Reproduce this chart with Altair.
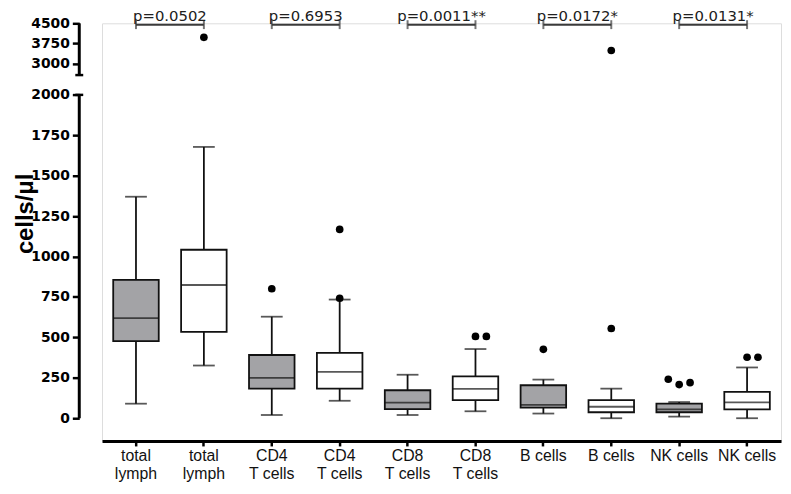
import json
import altair as alt
import pandas as pd

# ---------------- data ----------------
categories = ["c0", "c1", "c2", "c3", "c4", "c5", "c6", "c7", "c8", "c9"]
x_labels = [["total", "lymph"], ["total", "lymph"], ["CD4", "T cells"], ["CD4", "T cells"],
            ["CD8", "T cells"], ["CD8", "T cells"], ["B cells"], ["B cells"],
            ["NK cells"], ["NK cells"]]
groups = ["gray", "white"] * 5

whisker_lo = [90, 326, 20, 108, 20, 43, 29, 0, 10, 0]
q1 = [477, 534, 183, 183, 57, 112, 65, 37, 37, 55]
median = [619, 824, 249, 287, 96, 182, 82, 71, 55, 98]
q3 = [856, 1042, 391, 404, 173, 259, 204, 112, 90, 163]
whisker_hi = [1370, 1678, 628, 734, 269, 428, 239, 183, 100, 314]

outlier_cat = ["c1", "c2", "c3", "c3", "c5", "c5", "c6", "c7", "c7", "c8", "c8", "c8", "c9", "c9"]
outlier_val = [3980, 801, 1168, 742, 506, 506, 426, 555, 3490, 241, 208, 220, 377, 377]
outlier_slot = [0, 0, 0, 0, 0, 1, 0, 0, 0, -1, 0, 1, 0, 1]

bracket_left = ["c0", "c2", "c4", "c6", "c8"]
bracket_right = ["c1", "c3", "c5", "c7", "c9"]
p_text = ["p=0.0502", "p=0.6953", "p=0.0011**", "p=0.0172*", "p=0.0131*"]
bracket_level = [4450] * 5

axis_seg_lo = [0, 2575]
axis_seg_hi = [2000, 4500]
break_points = [2000, 2575]
y_ticks = [0, 250, 500, 750, 1000, 1250, 1500, 1750, 2000, 3000, 3750, 4500]

# ---------------- tables ----------------
boxes = pd.DataFrame({"cat": categories, "group": groups, "lo": whisker_lo, "q1": q1,
                      "med": median, "q3": q3, "hi": whisker_hi})
outliers = pd.DataFrame({"cat": outlier_cat, "val": outlier_val, "slot": outlier_slot})
brackets = pd.DataFrame({"a": bracket_left, "b": bracket_right, "txt": p_text, "lvl": bracket_level})
endpoints = pd.DataFrame({"cat": bracket_left + bracket_right, "lvl": bracket_level * 2})
axis_segs = pd.DataFrame({"lo": axis_seg_lo, "hi": axis_seg_hi})
breaks = pd.DataFrame({"v": break_points})

W, H = 686, 422
yscale = alt.Scale(domain=[0, 2000, 2575, 4500], range=[399, 72.3, 52.3, 0], zero=False, nice=False)
xscale = alt.Scale(type="band", domain=categories, paddingInner=0, paddingOuter=0)

label_expr = f"{json.dumps(x_labels)}[indexof({json.dumps(categories)}, datum.value)]"

x_axis = alt.Axis(title=None, labelExpr=label_expr, labelAngle=0, domainWidth=3, domainColor="black",
                  tickWidth=2.5, tickSize=5, tickColor="black", labelFont="Liberation Sans",
                  labelFontSize=16, labelColor="#111111", labelLineHeight=18, labelPadding=2,
                  labelBaseline="top")
y_axis = alt.Axis(title="cells/μl", values=y_ticks, format="d", offset=23, domain=False, grid=False,
                  tickSize=7, tickWidth=2.5, tickColor="black", labelFont="DejaVu Sans",
                  labelFontWeight="bold", labelFontSize=14, labelColor="black", labelPadding=3,
                  labelOverlap=False, labelFlush=False, titleFont="Liberation Sans",
                  titleFontWeight="bold", titleFontSize=24, titleAngle=270, titleAlign="center",
                  titleBaseline="middle", titleX=-54, titleY=192, titleColor="black")


def X(field="cat", band=0.5):
    return alt.X(f"{field}:N", scale=xscale, axis=x_axis, bandPosition=band)


def Y(field):
    return alt.Y(f"{field}:Q", scale=yscale, axis=y_axis)


whiskers = alt.Chart(boxes).mark_rule(color="#111111", strokeWidth=1.8).encode(
    x=X(), y=Y("lo"), y2="hi:Q")
caps_lo = alt.Chart(boxes).mark_tick(color="#111111", thickness=1.8, size=22).encode(
    x=X(), y=Y("lo"))
caps_hi = alt.Chart(boxes).mark_tick(color="#111111", thickness=1.8, size=22).encode(
    x=X(), y=Y("hi"))
box = alt.Chart(boxes).mark_bar(width=46, stroke="#111111", strokeWidth=1.8).encode(
    x=X(), y=Y("q1"), y2="q3:Q",
    fill=alt.Fill("group:N", scale=alt.Scale(domain=["gray", "white"], range=["#a3a3a6", "#ffffff"]),
                  legend=None))
med = alt.Chart(boxes).mark_tick(color="#111111", thickness=1.8, size=46).encode(
    x=X(), y=Y("med"))
pts = alt.Chart(outliers).mark_circle(color="black", opacity=1, size=60).encode(
    x=alt.X("cat:N", scale=xscale, axis=x_axis),
    xOffset=alt.XOffset("slot:Q", scale=alt.Scale(domain=[-1, 1], range=[23.3, 45.3])),
    y=Y("val"))

br_line = alt.Chart(brackets).mark_rule(color="#3a3a3a", strokeWidth=2).encode(
    x=X("a"), x2="b:N", y=Y("lvl"))
br_ends = alt.Chart(endpoints).mark_tick(color="#3a3a3a", thickness=2, size=9, orient="vertical").encode(
    x=X(), y=Y("lvl"))
br_text = alt.Chart(brackets).mark_text(font="DejaVu Sans", fontSize=15, color="#202020",
                                         baseline="alphabetic", align="center", dy=-4).encode(
    x=X("a", 1), y=Y("lvl"), text="txt:N")

axis_line = alt.Chart(axis_segs).mark_rule(color="black", strokeWidth=3).encode(
    x=alt.value(-23), y=Y("lo"), y2="hi:Q")
axis_caps = alt.Chart(breaks).mark_rule(color="black", strokeWidth=2.5).encode(
    x=alt.value(-27), x2=alt.value(-19), y=Y("v"))

chart = alt.layer(whiskers, caps_lo, caps_hi, box, med, pts, br_line, br_ends, br_text,
                  axis_line, axis_caps).properties(
    width=W, height=H, autosize="none",
    padding={"left": 95, "top": 13, "right": 2, "bottom": 43},
).configure_view(stroke=None).configure(background="white")

chart.save("out.html", embed_options={"renderer": "svg", "actions": False})
